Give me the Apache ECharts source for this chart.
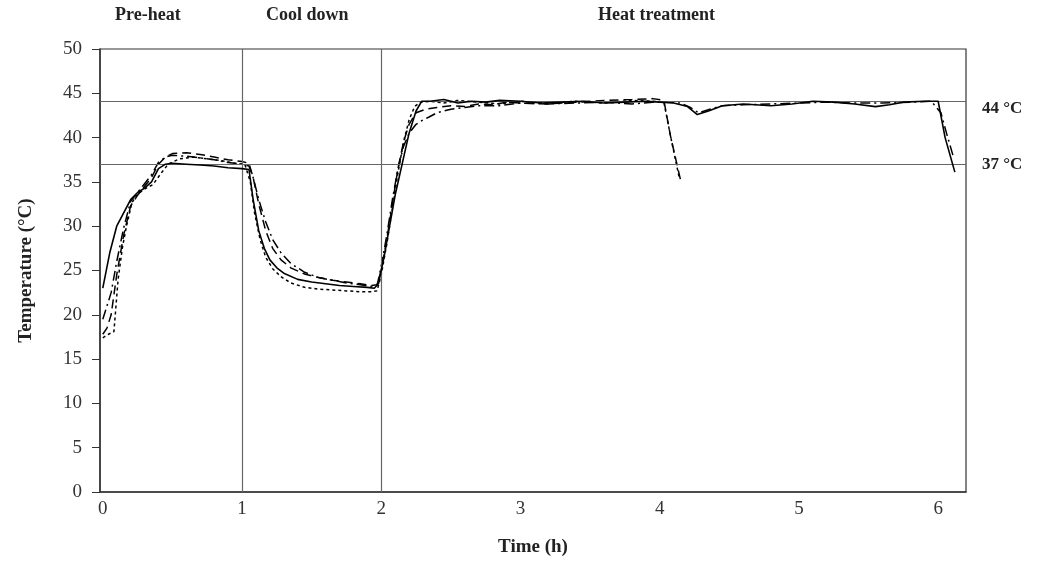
<!DOCTYPE html>
<html><head><meta charset="utf-8">
<script src="https://cdn.jsdelivr.net/npm/echarts@6/dist/echarts.min.js"></script>
<style>html,body{margin:0;padding:0;background:#fff}#c{width:1037px;height:562px}</style>
</head><body><div id="c"></div>
<script>
// Solid series
var tA = [0.00,0.05,0.10,0.15,0.20,0.25,0.30,0.35,0.40,0.45,0.50,0.60,0.70,0.80,0.90,1.00,1.05,1.08,1.12,1.16,1.20,1.25,1.30,1.40,1.50,1.60,1.70,1.80,1.90,1.95,1.98,2.02,2.06,2.10,2.15,2.20,2.25,2.29,2.35,2.45,2.55,2.65,2.75,2.85,3.00,3.15,3.30,3.45,3.60,3.75,3.90,4.00,4.10,4.20,4.27,4.35,4.45,4.60,4.80,4.95,5.10,5.25,5.40,5.55,5.65,5.75,5.90,6.00,6.05,6.12];
var yA = [23.0,27.0,30.0,31.5,33.0,33.8,34.3,35.0,36.5,37.0,37.1,37.0,36.9,36.8,36.6,36.5,36.4,33.0,29.5,27.5,26.2,25.3,24.7,24.0,23.7,23.5,23.3,23.2,23.1,23.0,23.5,26.5,30.0,33.5,37.0,40.5,43.0,44.1,44.1,44.3,43.9,44.1,44.0,44.2,44.1,43.9,44.0,44.1,43.9,44.0,44.1,44.0,43.9,43.5,42.6,43.0,43.6,43.8,43.6,43.8,44.1,44.0,43.8,43.5,43.7,44.0,44.1,44.1,40.0,36.1];
// Long-dash series
var tB = [0.00,0.03,0.06,0.10,0.15,0.20,0.25,0.30,0.35,0.40,0.45,0.50,0.60,0.70,0.80,0.90,1.00,1.05,1.08,1.12,1.17,1.22,1.28,1.35,1.45,1.55,1.65,1.75,1.85,1.93,1.97,2.00,2.04,2.08,2.12,2.16,2.20,2.25,2.32,2.40,2.50,2.60,2.70,2.80,2.90,3.00,3.20,3.40,3.60,3.80,3.95,4.03,4.08,4.15];
var yB = [17.8,18.5,20.0,24.5,29.0,32.3,33.5,34.5,35.5,37.0,37.8,38.2,38.3,38.1,37.8,37.5,37.3,37.1,35.5,32.5,29.5,27.5,26.2,25.3,24.6,24.2,23.9,23.7,23.5,23.3,23.4,25.0,28.5,32.5,36.5,39.5,41.5,42.8,43.2,43.4,43.6,43.5,43.8,43.7,44.0,43.9,43.8,44.0,44.2,44.3,44.4,44.2,40.0,35.2];
// Short-dash series
var tC = [0.00,0.04,0.08,0.11,0.14,0.17,0.21,0.25,0.30,0.36,0.42,0.47,0.55,0.65,0.75,0.85,0.95,1.02,1.06,1.09,1.13,1.17,1.22,1.28,1.35,1.45,1.55,1.65,1.75,1.85,1.93,1.97,2.00,2.04,2.08,2.12,2.16,2.20,2.24,2.28,2.35,2.45,2.55,2.70,2.85,3.00,3.20,3.40,3.60,3.80,3.95,4.03,4.08,4.14];
var yC = [17.4,17.8,18.1,24.0,27.5,30.0,32.7,33.6,34.2,34.7,36.0,37.0,37.6,37.8,37.6,37.4,37.1,37.0,35.0,31.5,28.5,26.5,25.2,24.3,23.6,23.1,22.9,22.8,22.7,22.6,22.6,22.7,24.5,28.0,32.0,36.0,39.5,42.0,43.5,44.0,44.1,43.9,44.2,44.0,43.8,44.1,43.9,44.1,43.9,44.2,44.1,44.0,40.0,35.5];
// Dash-dot series
var tD = [0.00,0.03,0.06,0.10,0.15,0.20,0.25,0.30,0.35,0.40,0.45,0.50,0.60,0.70,0.80,0.90,1.00,1.05,1.08,1.12,1.17,1.22,1.28,1.35,1.45,1.55,1.65,1.75,1.85,1.93,1.97,2.00,2.04,2.08,2.12,2.16,2.20,2.25,2.30,2.34,2.40,2.50,2.60,2.70,2.85,3.00,3.20,3.40,3.60,3.80,3.95,4.05,4.15,4.22,4.28,4.36,4.45,4.60,4.80,5.00,5.20,5.40,5.60,5.80,5.95,6.02,6.06,6.11];
var yD = [19.5,21.0,22.5,26.0,29.8,32.8,33.8,34.8,35.8,37.2,37.8,38.0,37.9,37.7,37.5,37.2,37.0,36.8,35.5,33.0,30.5,28.5,27.0,25.8,24.8,24.2,23.9,23.6,23.4,23.2,23.3,25.5,29.0,33.0,36.5,39.0,40.5,41.5,42.0,42.3,42.8,43.2,43.4,43.6,43.6,43.9,43.8,43.9,44.0,43.8,44.0,44.0,43.9,43.4,42.8,43.2,43.6,43.7,43.8,43.9,44.0,43.9,43.9,44.0,44.1,42.8,40.5,37.8];

var xTicks = [0,1,2,3,4,5,6];
var yTicks = [0,5,10,15,20,25,30,35,40,45,50];
var phaseBounds = [1,2];
var refTemps = [44.1,37];
var refLabels = ['44 °C','37 °C'];
var phaseNames = ['Pre-heat','Cool down','Heat treatment'];

function pairs(t,y){return t.map(function(v,i){return [v,y[i]];});}

var serif = 'Liberation Serif';
var chart = echarts.init(document.getElementById('c'));
var base = {type:'line', showSymbol:false, symbol:'none', smooth:false, animation:false, silent:true};
chart.setOption({
  animation:false,
  grid:{left:100,right:71,top:49,bottom:69,show:true,borderColor:'#333',borderWidth:1.2},
  xAxis:{type:'value',min:-0.02,max:6.2,
    name:'Time (h)',nameLocation:'middle',nameGap:46,
    nameTextStyle:{fontFamily:serif,fontWeight:'bold',fontSize:19,color:'#222'},
    axisLine:{show:true,onZero:false,lineStyle:{color:'#333',width:1.5}},
    axisTick:{show:false},splitLine:{show:false},
    axisLabel:{fontFamily:serif,fontSize:19,color:'#333',margin:8,customValues:xTicks}},
  yAxis:{type:'value',min:0,max:50,interval:5,
    name:'Temperature (°C)',nameLocation:'middle',nameGap:64,
    nameTextStyle:{fontFamily:serif,fontWeight:'bold',fontSize:19,color:'#222'},
    axisLine:{show:true,onZero:false,lineStyle:{color:'#333',width:1.5}},
    axisTick:{show:true,inside:false,length:8,lineStyle:{color:'#333'}},
    splitLine:{show:false},
    axisLabel:{fontFamily:serif,fontSize:19,color:'#333',margin:18,
      formatter:function(v){return yTicks.indexOf(v)>=0?String(v):'';}}},
  graphic:[
    {type:'text',left:115,top:6,style:{text:phaseNames[0],font:'bold 18px "Liberation Serif"',fill:'#222'}},
    {type:'text',left:266,top:6,style:{text:phaseNames[1],font:'bold 18px "Liberation Serif"',fill:'#222'}},
    {type:'text',left:598,top:6,style:{text:phaseNames[2],font:'bold 18px "Liberation Serif"',fill:'#222'}}
  ],
  series:[
    Object.assign({},base,{name:'A',data:pairs(tA,yA),z:5,lineStyle:{color:'#000',width:1.6,type:'solid'},
      markLine:{silent:true,symbol:'none',animation:false,
        lineStyle:{color:'#666',width:1.2,type:'solid'},
        label:{show:true,position:'end',distance:16,fontFamily:serif,fontWeight:'bold',fontSize:17,color:'#222',
          rich:{s:{height:14,fontSize:1}},
          formatter:function(p){var i=refTemps.indexOf(p.value);
            if(i===0) return '{s|}\n'+refLabels[0];
            return i>=0?refLabels[i]:'';}},
        data:[{yAxis:refTemps[0]},{yAxis:refTemps[1]},
          [{coord:[phaseBounds[0],0],label:{show:false}},{coord:[phaseBounds[0],50]}],
          [{coord:[phaseBounds[1],0],label:{show:false}},{coord:[phaseBounds[1],50]}]]}}),
    Object.assign({},base,{name:'B',data:pairs(tB,yB),lineStyle:{color:'#000',width:1.5,type:[9,5]}}),
    Object.assign({},base,{name:'C',data:pairs(tC,yC),lineStyle:{color:'#000',width:1.5,type:[3,3]}}),
    Object.assign({},base,{name:'D',data:pairs(tD,yD),lineStyle:{color:'#000',width:1.5,type:[10,4,2,4]}})
  ]
});
</script></body></html>
